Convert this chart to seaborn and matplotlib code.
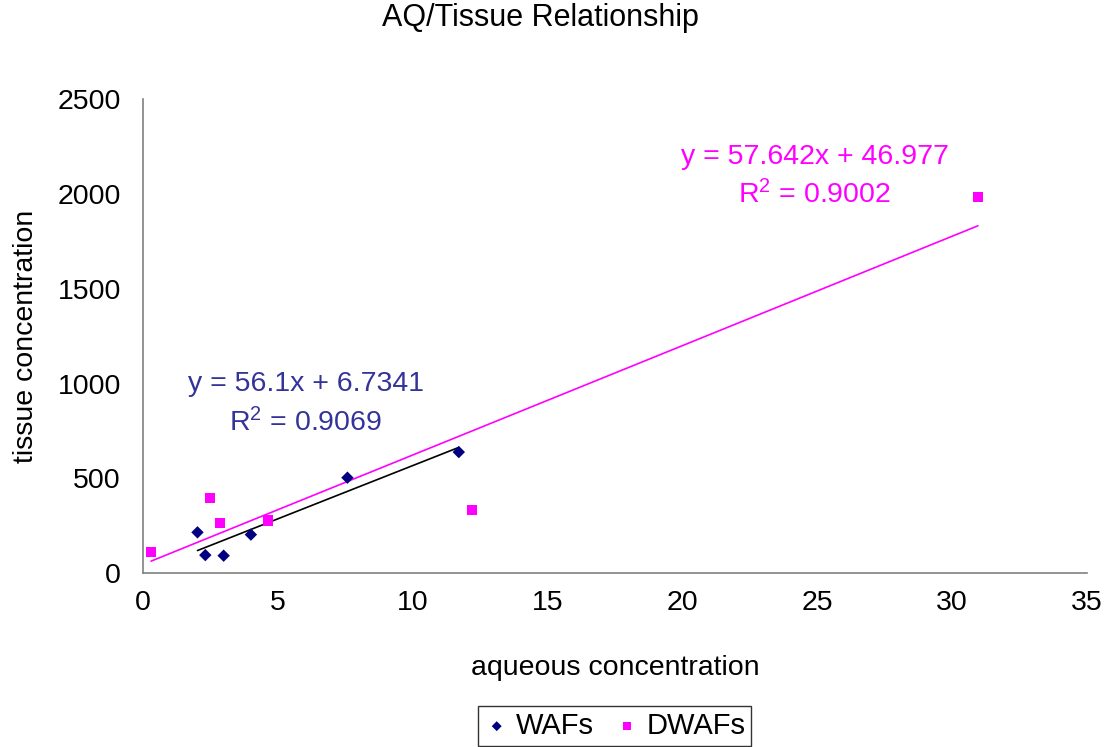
import numpy as np
import matplotlib
matplotlib.use("Agg")
import matplotlib.pyplot as plt
import seaborn as sns

sns.set_style("white")
plt.rcParams["font.family"] = ["Liberation Sans", "DejaVu Sans"]
plt.rcParams["mathtext.default"] = "regular"
plt.rcParams["text.color"] = "black"
plt.rcParams["axes.labelcolor"] = "black"

# ---------------------------------------------------
# Data
# ---------------------------------------------------
waf_x = [2.02, 2.31, 2.99, 4.00, 7.58, 11.71]
waf_y = [216, 96, 93, 204, 504, 639]

dwaf_x = [0.30, 2.49, 2.86, 4.63, 12.21, 30.96]
dwaf_y = [111, 397, 267, 279, 334, 1982]

# trendline equations as printed on the chart
waf_fit = (56.1, 6.7341, 0.9069)
dwaf_fit = (57.642, 46.977, 0.9002)

NAVY = "#000080"
MAGENTA = "#FF00FF"
TXT_BLUE = "#333399"
FS = 20.5

# ---------------------------------------------------
# Plot
# ---------------------------------------------------
fig = plt.figure(figsize=(11.13, 7.47), dpi=100)
ax = fig.add_axes([0.1285, 0.2325, 0.848, 0.635])

sns.scatterplot(x=waf_x, y=waf_y, marker="D", s=40, color=NAVY,
                edgecolor="none", label="WAFs", ax=ax, zorder=3)
sns.scatterplot(x=dwaf_x, y=dwaf_y, marker="s", s=55, color=MAGENTA,
                edgecolor="none", label="DWAFs", ax=ax, zorder=3)

# linear trendlines over the range of each series
for xs, (m, b, _), col in [(waf_x, waf_fit, "black"), (dwaf_x, dwaf_fit, MAGENTA)]:
    xx = np.array([min(xs), max(xs)])
    ax.plot(xx, m * xx + b, color=col, lw=1.2, zorder=2)

ax.set_xlim(0, 35)
ax.set_ylim(0, 2500)
ax.set_xticks(range(0, 36, 5))
ax.set_yticks(range(0, 2501, 500))

for s in ["top", "right"]:
    ax.spines[s].set_visible(False)
for s in ["left", "bottom"]:
    ax.spines[s].set_color("#808080")
    ax.spines[s].set_linewidth(1.2)
ax.tick_params(axis="both", direction="out", length=7, width=1.2,
               color="#808080", labelsize=20.5, labelcolor="black")
ax.tick_params(axis="x", pad=5)
ax.tick_params(axis="y", pad=9)

ax.set_xlabel("aqueous concentration", fontsize=FS, labelpad=28)
ax.set_ylabel("tissue concentration", fontsize=FS, labelpad=13)

# equation labels
ax.text(24.9, 2195, f"y = {dwaf_fit[0]}x + {dwaf_fit[1]}", color=MAGENTA,
        fontsize=FS, ha="center", va="center")
ax.text(24.9, 1994, f"R$^2$ = {dwaf_fit[2]:.4f}", color=MAGENTA,
        fontsize=FS, ha="center", va="center")
ax.text(6.04, 998, f"y = {waf_fit[0]}x + {waf_fit[1]}", color=TXT_BLUE,
        fontsize=FS, ha="center", va="center")
ax.text(6.04, 792, f"R$^2$ = {waf_fit[2]:.4f}", color=TXT_BLUE,
        fontsize=FS, ha="center", va="center")

fig.text(0.4856, 0.976, "AQ/Tissue Relationship", fontsize=22,
         ha="center", va="center")

leg = ax.legend(loc="upper center", bbox_to_anchor=(0.552, 1 - 706 / 747),
                bbox_transform=fig.transFigure, ncol=2, fontsize=21,
                frameon=True, fancybox=False, handletextpad=0.2,
                columnspacing=0.7, borderpad=0.2, borderaxespad=0,
                handlelength=0.9, markerscale=0.8)
leg.get_frame().set_edgecolor("black")
leg.get_frame().set_linewidth(1.0)

fig.savefig("out.png", dpi=100)
